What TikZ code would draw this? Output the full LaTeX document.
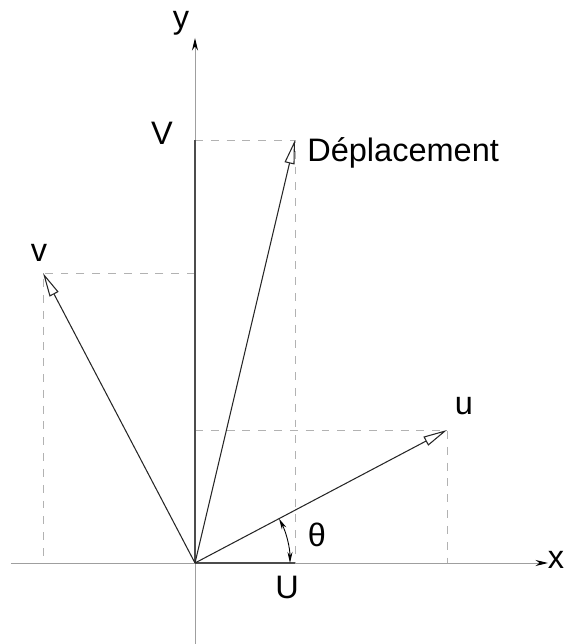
\documentclass[tikz,border=0pt]{standalone}
\usepackage{fontspec}
\setmainfont{Liberation Sans}
\usetikzlibrary{arrows.meta}

\begin{document}
\begin{tikzpicture}[>=Stealth, font=\fontsize{18.5}{22}\selectfont,
    axe/.style={gray!75, line width=0.5pt},
    vect/.style={black!85, line width=0.6pt, -{Triangle[open, length=0.48cm, width=0.2cm]}},
    proj/.style={gray!60, line width=0.5pt, dash pattern=on 4.5pt off 4.5pt},
    comp/.style={black!70, line width=0.9pt},
    lab/.style={anchor=base, inner sep=0pt}]
    % 0. cadre
    \useasboundingbox (-3.9,-1.62) rectangle (7.38,11.26);

    % 1. points
    \coordinate (O) at (0,0);
    \coordinate (u) at (5.04,2.66);
    \coordinate (v) at (-3.04,5.80);
    \coordinate (d) at (2.0,8.46);
    \coordinate (U) at (2.0,0);
    \coordinate (V) at (0,8.46);
    \coordinate (ux) at (5.04,0);
    \coordinate (uy) at (0,2.66);
    \coordinate (vx) at (-3.04,0);
    \coordinate (vy) at (0,5.80);
    \coordinate (xa) at (-3.68,0);
    \coordinate (xb) at (7.06,0);
    \coordinate (ya) at (0,-1.62);
    \coordinate (yb) at (0,10.5);

    % 2. projections en pointille
    \draw[proj] (V) -- (d) -- (U);
    \draw[proj] (vy) -- (v) -- (vx);
    \draw[proj] (uy) -- (u) -- (ux);

    % 3. axes
    \draw[axe, -{Stealth[black, length=0.25cm, width=0.12cm]}] (xa) -- (xb);
    \draw[axe, -{Stealth[black, length=0.25cm, width=0.12cm]}] (ya) -- (yb);

    % 4. composantes U et V
    \draw[comp] (O) -- (U);
    \draw[comp] (O) -- (V);

    % 5. vecteurs
    \draw[vect] (O) -- (d);
    \draw[vect] (O) -- (u);
    \draw[vect] (O) -- (v);

    % 6. angle
    \draw[black, line width=0.5pt, {Stealth[length=0.22cm, width=0.1cm]}-{Stealth[length=0.22cm, width=0.1cm]}]
    (1.9,0) arc (0:27.8:1.9);

    % 7. etiquettes
    \node[lab] (lx) at (7.22,-0.1) {x};
    \node[lab] (ly) at (-0.28,10.68) {y};
    \node[lab] (lV) at (-0.66,8.36) {V};
    \node[lab] (lU) at (1.84,-0.7) {U};
    \node[lab] (lu) at (5.38,2.96) {u};
    \node[lab] (lv) at (-3.12,6.02) {v};
    \node[lab] (lt) at (2.44,0.32) {θ};
    \node[lab, anchor=base west] (ld) at (2.24,8.02) {Déplacement};
\end{tikzpicture}
\end{document}
